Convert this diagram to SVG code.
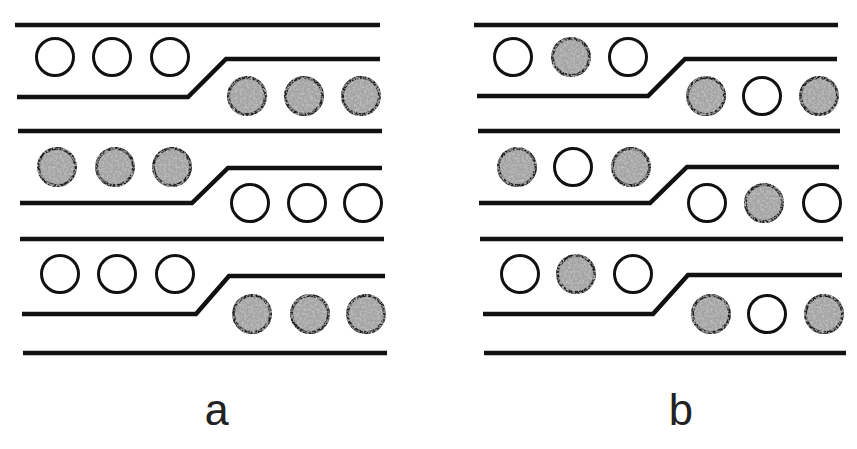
<svg xmlns="http://www.w3.org/2000/svg" width="857" height="449" viewBox="0 0 857 449">
<style>
.ln{fill:none;stroke:#111;stroke-width:4.5;stroke-linejoin:miter;stroke-linecap:butt}
.o{fill:#fff;stroke:#111;stroke-width:3}
.f{fill:#a4a4a4;stroke:#222;stroke-width:3;filter:url(#mottle)}
.lbl{font-family:"Liberation Mono","DejaVu Sans Mono",monospace;font-size:44px;fill:#222;text-anchor:middle}
</style>
<defs>
<filter id="mottle" x="-10%" y="-10%" width="120%" height="120%">
<feTurbulence type="fractalNoise" baseFrequency="0.45" numOctaves="2" seed="3" result="n"/>
<feColorMatrix in="n" type="matrix" values="0 0 0 0 0.55  0 0 0 0 0.55  0 0 0 0 0.55  0 0 0 -2.2 1.3" result="spots"/>
<feComposite in="spots" in2="SourceGraphic" operator="atop"/>
</filter>
</defs>
<rect width="857" height="449" fill="#fff"/>
<g id="panel-a">
  <g id="a-lines">
    <path class="ln" d="M15 25H380"/>
    <path class="ln" d="M17 97H188L226 59H380"/>
    <path class="ln" d="M18 131H382"/>
    <path class="ln" d="M20 203H192L228 168H382"/>
    <path class="ln" d="M20 239H384"/>
    <path class="ln" d="M22 314H196L229 276H385"/>
    <path class="ln" d="M23 353H387"/>
  </g>
  <g id="a-row1">
    <circle class="o" cx="55" cy="57" r="18.5"/>
    <circle class="o" cx="112" cy="57" r="18.5"/>
    <circle class="o" cx="170" cy="57" r="18.5"/>
    <circle class="f" cx="247" cy="96" r="18.5"/>
    <circle class="f" cx="304" cy="96" r="18.5"/>
    <circle class="f" cx="361" cy="96" r="18.5"/>
  </g>
  <g id="a-row2">
    <circle class="f" cx="57" cy="167" r="18.5"/>
    <circle class="f" cx="115" cy="167" r="18.5"/>
    <circle class="f" cx="172" cy="167" r="18.5"/>
    <circle class="o" cx="250" cy="203" r="18.5"/>
    <circle class="o" cx="307" cy="203" r="18.5"/>
    <circle class="o" cx="363" cy="203" r="18.5"/>
  </g>
  <g id="a-row3">
    <circle class="o" cx="60" cy="274" r="18.5"/>
    <circle class="o" cx="117" cy="274" r="18.5"/>
    <circle class="o" cx="175" cy="274" r="18.5"/>
    <circle class="f" cx="252" cy="314" r="18.5"/>
    <circle class="f" cx="310" cy="314" r="18.5"/>
    <circle class="f" cx="366" cy="314" r="18.5"/>
  </g>
  <text id="label-a" class="lbl" x="217" y="425">a</text>
</g>
<g id="panel-b">
  <g id="b-lines">
    <path class="ln" d="M474 25H838"/>
    <path class="ln" d="M477 96H648L685 59H837"/>
    <path class="ln" d="M478 131H840"/>
    <path class="ln" d="M479 203H650L687 167H839"/>
    <path class="ln" d="M480 239H843"/>
    <path class="ln" d="M483 314H653L688 275H842"/>
    <path class="ln" d="M484 353H846"/>
  </g>
  <g id="b-row1">
    <circle class="o" cx="513" cy="57" r="18.5"/>
    <circle class="f" cx="571" cy="57" r="18.5"/>
    <circle class="o" cx="628" cy="57" r="18.5"/>
    <circle class="f" cx="706" cy="96" r="18.5"/>
    <circle class="o" cx="762" cy="96" r="18.5"/>
    <circle class="f" cx="819" cy="96" r="18.5"/>
  </g>
  <g id="b-row2">
    <circle class="f" cx="517" cy="167" r="18.5"/>
    <circle class="o" cx="573" cy="167" r="18.5"/>
    <circle class="f" cx="631" cy="167" r="18.5"/>
    <circle class="o" cx="707" cy="203" r="18.5"/>
    <circle class="f" cx="764" cy="203" r="18.5"/>
    <circle class="o" cx="822" cy="203" r="18.5"/>
  </g>
  <g id="b-row3">
    <circle class="o" cx="520" cy="274" r="18.5"/>
    <circle class="f" cx="576" cy="274" r="18.5"/>
    <circle class="o" cx="633" cy="274" r="18.5"/>
    <circle class="f" cx="711" cy="314" r="18.5"/>
    <circle class="o" cx="767" cy="314" r="18.5"/>
    <circle class="f" cx="824" cy="314" r="18.5"/>
  </g>
  <text id="label-b" class="lbl" x="681" y="425">b</text>
</g>
</svg>
